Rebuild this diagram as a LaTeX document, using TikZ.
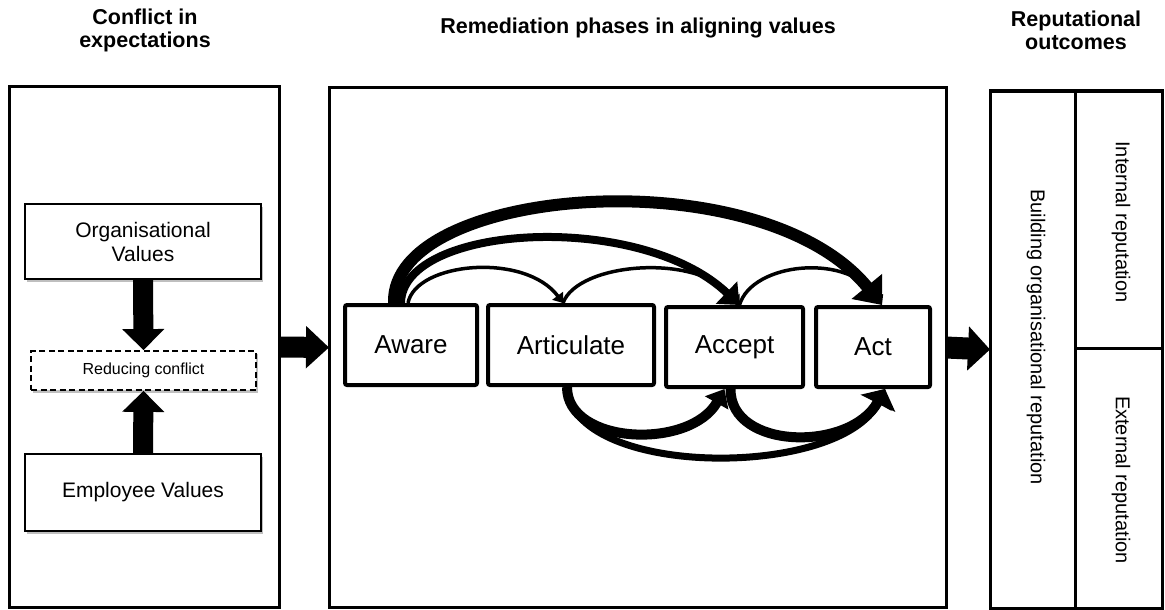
\documentclass[tikz,border=0pt]{standalone}
\usepackage{fontspec}
\setmainfont{Liberation Sans}
\usetikzlibrary{arrows.meta,shadows,calc}
\begin{document}
\begin{tikzpicture}[x=1pt,y=-1pt,
  panel/.style={draw, line width=3pt, inner sep=0pt, outer sep=0pt},
  valbox/.style={draw, line width=1.6pt, fill=white, align=center, inner sep=0pt,
    font=\fontsize{21}{24}\selectfont,
    drop shadow={shadow xshift=2pt, shadow yshift=-3pt, opacity=0.25, fill=black}},
  redbox/.style={draw, dash pattern=on 6pt off 3.5pt, line width=1.8pt, fill=white, inner sep=0pt,
    font=\fontsize{16}{19}\selectfont,
    drop shadow={shadow xshift=2pt, shadow yshift=-3pt, opacity=0.25, fill=black}},
  phase/.style={draw, line width=4pt, rounded corners=2pt, fill=white, inner sep=0pt,
    minimum height=80pt, font=\fontsize{26}{30}\selectfont},
  title/.style={align=center, font=\fontsize{21.5}{23}\selectfont\bfseries},
  rtext/.style={rotate=-90, font=\fontsize{20}{24}\selectfont},
  thinarr/.style={line width=3.5pt, -{Triangle[length=9pt,width=13pt]}},
  medarr/.style={line width=8pt, -{Triangle[length=18pt,width=30pt]}},
  thickarr/.style={line width=12pt, -{Triangle[length=24pt,width=38pt]}},
  botarr/.style={line width=10pt, -{Triangle[length=16pt,width=#1]}},
]
\useasboundingbox (0,0) rectangle (1165,610);

% titles
\node[title] (t1) at (145,30) {Conflict in\\expectations};
\node[title] (t2) at (638,28) {Remediation phases in aligning values};
\node[title] (t3) at (1076,30) {Reputational\\outcomes};

% panels
\node[panel, minimum width=270pt, minimum height=520pt] (left) at (144,347) {};
\node[panel, minimum width=617pt, minimum height=519pt] (mid) at (637.5,347.5) {};
\node[panel, minimum width=85pt, minimum height=517pt] (rleft) at (1032.5,349.5) {};
\node[panel, minimum width=87pt, minimum height=257pt] (rtop) at (1118.5,219.5) {};
\node[panel, minimum width=87pt, minimum height=260pt] (rbot) at (1118.5,478) {};

\node[rtext] (build) at (1036,337) {Building organisational reputation};
\node[rtext] (intr) at (1121,222) {Internal reputation};
\node[rtext] (extr) at (1121,480) {External reputation};

% left panel content
\node[valbox, minimum width=236pt, minimum height=75pt] (org) at (143,241.5) {Organisational\\Values};
\node[redbox, minimum width=225pt, minimum height=39pt] (red) at (143.5,370.5) {Reducing conflict};
\node[valbox, minimum width=236pt, minimum height=77pt] (emp) at (143,492.5) {Employee Values};

\draw[line width=20pt, -{Triangle[length=21pt,width=41pt]}] (org.south) -- (red.north);
\draw[line width=20pt, -{Triangle[length=21pt,width=41pt]}] (emp.north) -- (red.south);

% big arrows between panels
\draw[line width=21pt, -{Triangle[length=23pt,width=41pt]}] (left.east) -- (mid.west);
\draw[line width=22pt, -{Triangle[length=22pt,width=43pt]}] (mid.east) -- (rleft.west);

% phases
\node[phase, minimum width=132pt] (aware) at (411,345) {Aware};
\node[phase, minimum width=166pt] (artic) at (571,345) {Articulate};
\node[phase, minimum width=137pt] (accept) at (734.5,347) {Accept};
\node[phase, minimum width=114pt] (act) at (873,347) {Act};

% top curved arrows
\draw[thickarr] ($(aware.north)+(-17,0)$) .. controls (390,186) and (760,156) .. ($(act.north)+(9,0)$);
\draw[medarr] ($(aware.north)+(-10,0)$) .. controls (402,224) and (640,210) .. ($(accept.north)+(5,0)$);
\draw[thinarr] ($(aware.north)+(-3,0)$) .. controls (416,262) and (525,252) .. ($(artic.north)+(-8,0)$);
\draw[thinarr] ($(artic.north)+(-8,0)$) .. controls (578,262) and (700,252) .. ($(accept.north)+(5,0)$);
\draw[thinarr] ($(accept.north)+(5,0)$) .. controls (752,262) and (850,252) .. ($(act.north)+(9,0)$);

% bottom curved arrows
\draw[botarr=38pt, line width=7pt] ($(artic.south)+(-4,0)$) .. controls (570,478) and (840,480) .. ($(act.south)+(12,0)$);
\draw[botarr=26pt] ($(artic.south)+(-4,0)$) .. controls (567,445) and (690,450) .. ($(accept.south)+(-10,0)$);
\draw[botarr=32pt] ($(accept.south)+(-4,0)$) .. controls (730,450) and (850,452) .. ($(act.south)+(12,0)$);
\end{tikzpicture}
\end{document}
